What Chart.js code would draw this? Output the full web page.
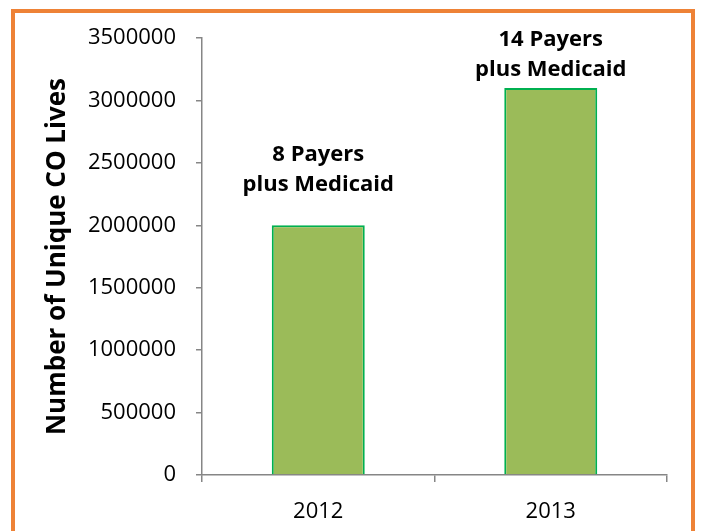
<!DOCTYPE html>
<html>
<head>
<meta charset="utf-8">
<script src="https://cdn.jsdelivr.net/npm/chart.js@4"></script>
<style>
	body { margin: 0; background: #ffffff; }
	#frame { position: absolute; left: 11px; top: 9px; width: 676px; height: 560px; border: 4px solid #EE8236; }
	#wrap { position: absolute; left: 0; top: 0; width: 701px; height: 531px; }
</style>
</head>
<body>
<div id="frame"></div>
<div id="wrap"><canvas id="bars"></canvas></div>
<script>
var years = ["2012", "2013"];
var lives = [2000000, 3100000];
var barNotes = [["8 Payers", "plus Medicaid"], ["14 Payers", "plus Medicaid"]];
var yTicks = [0, 500000, 1000000, 1500000, 2000000, 2500000, 3000000, 3500000];

var fontName = "'Open Sans', 'Liberation Sans', sans-serif";

// text above each bar, gap (px) between last baseline and bar top
var notesPlugin = {
	id: "barNotes",
	afterDatasetsDraw: function(chart, args, opts)
	{
		let ctx = chart.ctx;
		let meta = chart.getDatasetMeta(0);
		ctx.save();
		ctx.font = "bold 22px " + fontName;
		ctx.fillStyle = "#000000";
		ctx.textAlign = "center";
		ctx.textBaseline = "alphabetic";
		for (let i = 0; i < meta.data.length; i++)
		{
			let bar = meta.data[i];
			let lines = barNotes[i];
			let y = bar.y - opts.gaps[i];
			for (let j = lines.length - 1; j >= 0; j--)
			{
				ctx.fillText(lines[j], bar.x, y);
				y -= 30;
			}
		}
		ctx.restore();
	}
};

var chart = new Chart("bars",
{
	type: "bar",
	data:
	{
		labels: years,
		datasets:
		[{
			label: "Lives",
			data: lives,
			backgroundColor: "#9BBB59",
			borderColor: "#00B050",
			borderWidth: 2,
			barPercentage: 0.4,
			categoryPercentage: 1.0
		}]
	},
	options:
	{
		responsive: true,
		maintainAspectRatio: false,
		animation: false,
		layout: { padding: { top: 38, right: 34, left: 42, bottom: 0 } },
		plugins:
		{
			legend: { display: false },
			tooltip: { enabled: false },
			barNotes: { gaps: [34, 12] }
		},
		scales:
		{
			x:
			{
				grid: { display: true, drawOnChartArea: false, offset: true, tickLength: 7, color: "#868686", lineWidth: 1.5 },
				border: { color: "#868686", width: 1.5 },
				ticks: { color: "#000000", font: { family: fontName, size: 22 }, padding: 17 },
				afterFit: function(s) { s.height = 56; }
			},
			y:
			{
				min: 0,
				max: 3500000,
				afterBuildTicks: function(s) { s.ticks = yTicks.map(function(v) { return { value: v }; }); },
				grid: { display: true, drawOnChartArea: false, tickLength: 6, color: "#868686", lineWidth: 1.5 },
				border: { color: "#868686", width: 1.5 },
				ticks: { color: "#000000", font: { family: fontName, size: 22 }, padding: 20, callback: function(v) { return String(v); } },
				title:
				{
					display: true,
					text: "Number of Unique CO Lives",
					color: "#000000",
					font: { family: fontName, size: 26, weight: "bold" },
					padding: { top: 0, bottom: 0 }
				},
				afterFit: function(s) { s.width = 160; }
			}
		}
	},
	plugins: [notesPlugin]
});
</script>
</body>
</html>
